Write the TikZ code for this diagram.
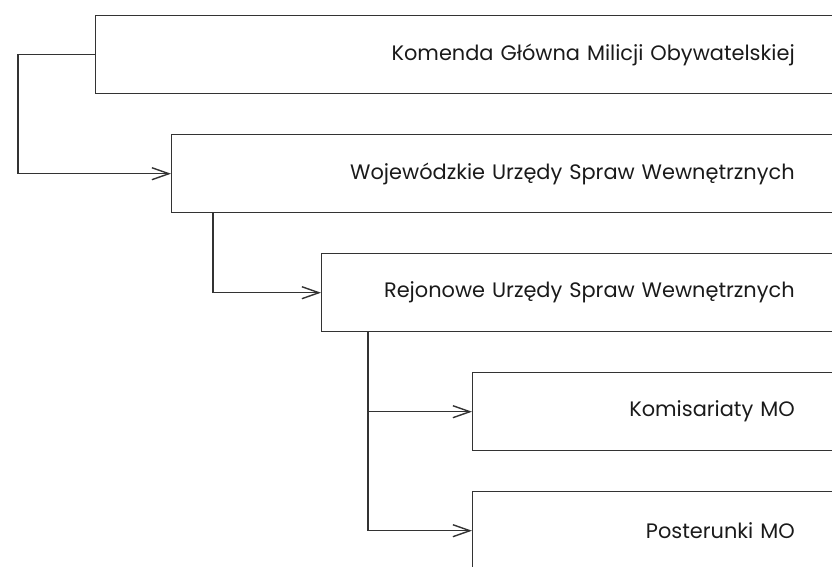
\documentclass[tikz,border=0pt]{standalone}
\usepackage{fontspec}
\setmainfont{Poppins}
\usepackage{xcolor}
\usepackage{tikz}
\usetikzlibrary{arrows.meta}
\definecolor{linegray}{HTML}{333333}
\definecolor{textgray}{HTML}{1A1A1A}
\tikzset{
  unit/.style={draw=linegray, line width=1.4pt, anchor=north west, minimum height=78pt,
    inner xsep=56pt, align=right, text=textgray, font=\fontsize{20.9}{22}\selectfont},
  link/.style={draw=linegray, line width=1.4pt, -{Straight Barb[length=17pt, width=12pt]}}
}

\begin{document}
\begin{tikzpicture}[x=1pt, y=-1pt]
                \useasboundingbox (0,0) rectangle (832,566);
                \clip (0,0) rectangle (832,566);
                \node[unit, text width=643pt] (kg) at (95,15) {Komenda Główna Milicji Obywatelskiej};
                \node[unit, text width=567pt] (wu) at (171,134) {Wojewódzkie Urzędy Spraw Wewnętrznych};
                \node[unit, text width=417pt] (ru) at (321,253) {Rejonowe Urzędy Spraw Wewnętrznych};
                \node[unit, text width=266pt] (km) at (472,372) {Komisariaty MO};
                \node[unit, text width=266pt] (pm) at (472,491) {Posterunki MO};

                \draw[link] (kg.west) -- ++(-77,0) |- (wu.west);
                \draw[link] ([xshift=42pt]wu.south west) |- (ru.west);
                \foreach \n in {km, pm}
                \draw[link] ([xshift=47pt]ru.south west) |- (\n.west);
                \end{tikzpicture}
\end{document}
